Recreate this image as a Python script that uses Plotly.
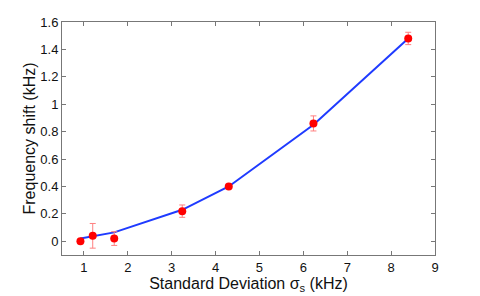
import plotly.graph_objects as go

sigma = [0.92, 1.20, 1.69, 3.24, 4.30, 6.23, 8.39]
shift = [0.00, 0.04, 0.02, 0.22, 0.40, 0.86, 1.48]
err = [0.0, 0.09, 0.05, 0.045, 0.01, 0.055, 0.045]
fit = [0.02, 0.038, 0.065, 0.23, 0.40, 0.85, 1.48]

xticks = [1, 2, 3, 4, 5, 6, 7, 8, 9]
yticks = [0, 0.2, 0.4, 0.6, 0.8, 1.0, 1.2, 1.4, 1.6]
yticklabels = ["0", "0.2", "0.4", "0.6", "0.8", "1", "1.2", "1.4", "1.6"]

FONT = "Liberation Sans, Arial, sans-serif"

fig = go.Figure()
fig.add_trace(go.Scatter(
    x=sigma, y=fit, mode="lines", line=dict(color="#1f3bff", width=2),
    showlegend=False,
))
fig.add_trace(go.Scatter(
    x=sigma, y=shift, mode="markers",
    marker=dict(color="#ff0000", size=8),
    error_y=dict(type="data", array=err, color="#ff8080", thickness=1, width=3),
    showlegend=False,
))

axis_common = dict(
    showgrid=False, zeroline=False, showline=True, linecolor="#777777", linewidth=1,
    mirror="ticks", ticks="inside", ticklen=4, tickcolor="#777777", automargin=False,
    tickfont=dict(size=13, color="#111111", family=FONT),
)
fig.update_xaxes(range=[0.5, 9], tickvals=xticks, **axis_common,
                 title=dict(text="Standard Deviation σ<sub>s</sub> (kHz)", standoff=0,
                            font=dict(size=16, color="#111111", family=FONT)))
fig.update_yaxes(range=[-0.1, 1.6], tickvals=yticks, ticktext=yticklabels, **axis_common,
                 title=dict(text="Frequency shift (kHz)", standoff=0,
                            font=dict(size=16, color="#111111", family=FONT)))
fig.update_layout(
    width=480, height=296, margin=dict(l=54, r=53, t=14, b=49),
    paper_bgcolor="white", plot_bgcolor="white",
)
fig.write_html("out.html")
